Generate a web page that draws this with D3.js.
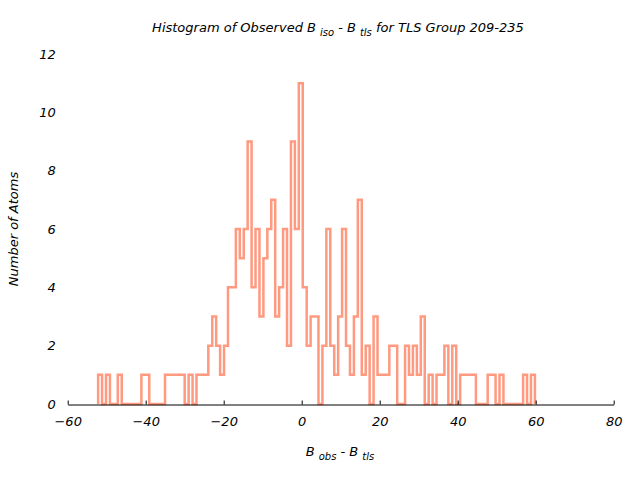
<!DOCTYPE html>
<html>
<head>
<meta charset="utf-8">
<script src="https://cdn.jsdelivr.net/npm/d3@7"></script>
<style>
  body { margin: 0; background: #fff; }
  text { font-family: "DejaVu Sans", sans-serif; font-style: italic; fill: #000; }
</style>
</head>
<body>
<div id="chart"></div>
<script>
// Data
////////////////////////////////////////////////////////////////////
const binStart = -52.2;   // left edge of first bin
const binWidth = 1.009;
const counts = [
  1, 0, 1, 0, 0, 1, 0, 0, 0, 0,
  0, 1, 1, 0, 0, 0, 0, 1, 1, 1,
  1, 1, 0, 1, 0, 1, 1, 1, 2, 3,
  2, 1, 2, 4, 4, 6, 5, 6, 9, 4,
  6, 3, 5, 6, 7, 3, 4, 6, 2, 9,
  6, 11, 4, 2, 3, 3, 0, 2, 6, 2,
  1, 3, 6, 2, 1, 3, 7, 1, 2, 0,
  3, 1, 1, 1, 2, 2, 0, 0, 2, 1,
  2, 1, 3, 0, 1, 0, 1, 1, 2, 0,
  2, 0, 1, 1, 1, 1, 0, 0, 0, 1,
  1, 0, 1, 0, 0, 0, 0, 0, 1, 0,
  1,
];
const xTicks = [-60, -40, -20, 0, 20, 40, 60, 80];
const yTicks = [0, 2, 4, 6, 8, 10, 12];

// Dimensions
////////////////////////////////////////////////////////////////////
let dimensions = {
  width: 640,
  height: 480,
  margin: { top: 54, bottom: 76, left: 67.7, right: 26.3 },
};
dimensions.ctrWidth =
  dimensions.width - dimensions.margin.left - dimensions.margin.right;
dimensions.ctrHeight =
  dimensions.height - dimensions.margin.top - dimensions.margin.bottom;

const svg = d3
  .select("#chart")
  .append("svg")
  .attr("width", dimensions.width)
  .attr("height", dimensions.height);

const ctr = svg
  .append("g")
  .attr(
    "transform",
    `translate(${dimensions.margin.left}, ${dimensions.margin.top})`
  );

// Scales
////////////////////////////////////////////////////////////////////
const xScale = d3.scaleLinear().domain([-60, 80]).range([0, dimensions.ctrWidth]);
const yScale = d3.scaleLinear().domain([0, 12]).range([dimensions.ctrHeight, 0]);

// Step outline
////////////////////////////////////////////////////////////////////
const pts = [{ x: binStart, y: 0 }];
counts.forEach((c, i) => pts.push({ x: binStart + i * binWidth, y: c }));
pts.push({ x: binStart + counts.length * binWidth, y: 0 });

const line = d3
  .line()
  .x((d) => xScale(d.x))
  .y((d) => yScale(d.y))
  .curve(d3.curveStepAfter);

ctr
  .append("path")
  .datum(pts)
  .attr("d", line)
  .attr("fill", "none")
  .attr("stroke", "#ff9a80")
  .attr("stroke-width", 2.5)
  .attr("stroke-linejoin", "miter");

// Axes
////////////////////////////////////////////////////////////////////
const xAxis = d3
  .axisBottom(xScale)
  .tickValues(xTicks)
  .tickSizeInner(-4)
  .tickSizeOuter(0)
  .tickPadding(12);

const xAxisGroup = ctr
  .append("g")
  .attr("transform", `translate(0,${dimensions.ctrHeight + 0.5})`)
  .call(xAxis);
xAxisGroup.select(".domain").attr("stroke", "#000");
xAxisGroup.selectAll("text").attr("font-size", 13).attr("font-family", null);

const yAxis = d3.axisLeft(yScale).tickValues(yTicks).tickSize(0).tickPadding(12);
const yAxisGroup = ctr.append("g").call(yAxis);
yAxisGroup.select(".domain").remove();
yAxisGroup.selectAll("text").attr("font-size", 13).attr("font-family", null);

// Labels
////////////////////////////////////////////////////////////////////
const title = svg
  .append("text")
  .attr("x", 338)
  .attr("y", 32)
  .attr("text-anchor", "middle")
  .attr("font-size", 13);
title.append("tspan").text("Histogram of Observed B");
title.append("tspan").attr("dx", 4).attr("dy", 4).attr("font-size", 10).text("iso");
title.append("tspan").attr("dy", -4).text("  - B");
title.append("tspan").attr("dx", 4).attr("dy", 4).attr("font-size", 10).text("tls");
title.append("tspan").attr("dy", -4).text("  for TLS Group 209-235");

const xLabel = svg
  .append("text")
  .attr("x", 340)
  .attr("y", 456)
  .attr("text-anchor", "middle")
  .attr("font-size", 13);
xLabel.append("tspan").text("B");
xLabel.append("tspan").attr("dx", 4).attr("dy", 4).attr("font-size", 10).text("obs");
xLabel.append("tspan").attr("dy", -4).text("  - B");
xLabel.append("tspan").attr("dx", 4).attr("dy", 4).attr("font-size", 10).text("tls");

svg
  .append("text")
  .attr("transform", "translate(18, 229) rotate(-90)")
  .attr("text-anchor", "middle")
  .attr("font-size", 13)
  .text("Number of Atoms");
</script>
</body>
</html>
